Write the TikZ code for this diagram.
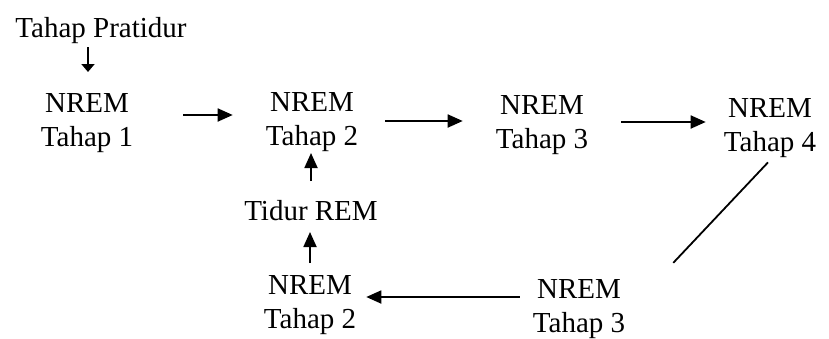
\documentclass[tikz,border=0pt]{standalone}
\usepackage{fontspec}
\setmainfont{Liberation Serif}
\usetikzlibrary{arrows.meta}
\begin{document}
\begin{tikzpicture}[x=1pt,y=-1pt,
  lbl/.style={font=\fontsize{29}{34}\selectfont, align=center, inner sep=0pt, anchor=base},
  arr/.style={line width=1.8pt, -{Triangle[length=15pt,width=13pt]}},
  smallarr/.style={line width=1.8pt, -{Triangle[length=8pt,width=13pt]}},
  plain/.style={line width=1.8pt}]
\useasboundingbox (0,0) rectangle (829,338);
\node[lbl] (pra) at (101,37) {Tahap Pratidur};
\node[lbl] (n1) at (87,146) {NREM\\Tahap 1};
\node[lbl] (n2) at (312,145) {NREM\\Tahap 2};
\node[lbl] (n3) at (542,148) {NREM\\Tahap 3};
\node[lbl] (n4) at (770,151) {NREM\\Tahap 4};
\node[lbl] (rem) at (311,220) {Tidur REM};
\node[lbl] (n2b) at (310,328) {NREM\\Tahap 2};
\node[lbl] (n3b) at (579,332) {NREM\\Tahap 3};
% connector end points
\coordinate (p0s) at ([xshift=-13pt]pra.south |- 0,47);
\coordinate (p0e) at ([xshift=-13pt]pra.south |- 0,72);
\coordinate (a1s) at ([xshift=50pt]n1.east |- 0,115);
\coordinate (a1e) at ([xshift=-33pt]n2.west |- 0,115);
\coordinate (a2s) at ([xshift=27pt]n2.east |- 0,121);
\coordinate (a2e) at ([xshift=-33pt]n3.west |- 0,121);
\coordinate (a3s) at ([xshift=33pt]n3.east |- 0,122);
\coordinate (a3e) at ([xshift=-18pt]n4.west |- 0,122);
\coordinate (d1s) at ([shift={(-2,5)}]n4.south);
\coordinate (d1e) at ([shift={(48,-16)}]n3b.north east);
\coordinate (a4s) at ([xshift=-13pt]n3b.west |- 0,297);
\coordinate (a4e) at ([xshift=10pt]n2b.east |- 0,297);
\coordinate (a5s) at (n2b.north |- 0,263);
\coordinate (a5e) at (n2b.north |- 0,232);
\coordinate (a6s) at (rem.north |- 0,181);
\coordinate (a6e) at (rem.north |- 0,153);
% connectors
\draw[smallarr] (p0s) -- (p0e);
\draw[arr] (a1s) -- (a1e);
\draw[arr] (a2s) -- (a2e);
\draw[arr] (a3s) -- (a3e);
\draw[plain] (d1s) -- (d1e);
\draw[arr] (a4s) -- (a4e);
\draw[arr] (a5s) -- (a5e);
\draw[arr] (a6s) -- (a6e);
\end{tikzpicture}
\end{document}
